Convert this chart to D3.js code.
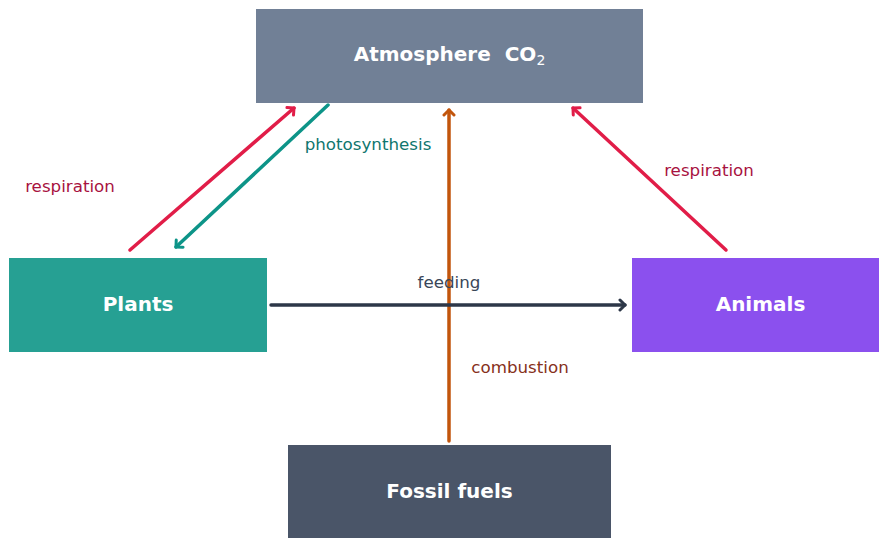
<!DOCTYPE html>
<html>
<head>
<meta charset="utf-8">
<script src="https://cdn.jsdelivr.net/npm/d3@7"></script>
<style>
  html, body { margin: 0; padding: 0; background: #fff; }
  text { font-family: "DejaVu Sans", sans-serif; }
</style>
</head>
<body>
<div id="chart"></div>
<script>
// nodes and flows of the carbon cycle
var nodes = ["Atmosphere", "Plants", "Animals", "Fossil fuels"];
var flowFrom = ["Plants", "Atmosphere", "Animals", "Fossil fuels", "Plants"];
var flowTo = ["Atmosphere", "Plants", "Atmosphere", "Atmosphere", "Animals"];
var flowLabels = ["respiration", "photosynthesis", "respiration", "combustion", "feeding"];

var width = 879, height = 538;

// layout (pixels)
var box = {
  "Atmosphere":   {x: 256, y: 9,   w: 387, h: 94,  fill: "#718096", dy: 5},
  "Plants":       {x: 9,   y: 258, w: 258, h: 94,  fill: "#26a093", dy: 6},
  "Animals":      {x: 632, y: 258, w: 257, h: 94,  fill: "#8b50ee", dy: 6},
  "Fossil fuels": {x: 288, y: 445, w: 323, h: 93,  fill: "#4a5568", dy: 6}
};
// arrow end points [x1,y1,x2,y2], label position and colours per flow
var arrowPos = [
  [130, 250, 294, 108],
  [328, 105, 176, 247],
  [726, 250, 573, 108],
  [449, 441, 449, 110],
  [271, 305, 625, 305]
];
var labelPos = [[70, 186], [368, 144], [709, 170], [520, 367], [449, 282]];
var lineColor = ["#e11d48", "#0d9488", "#e11d48", "#c2550c", "#2d3748"];
var textColor = ["#a8123f", "#0f766e", "#a8123f", "#86301a", "#3a4658"];

var svg = d3.select("#chart").append("svg")
  .attr("width", width).attr("height", height);

var defs = svg.append("defs");
lineColor.forEach(function (c, i) {
  defs.append("marker")
    .attr("id", "arr" + i)
    .attr("viewBox", "-7 -7 14 14")
    .attr("refX", 0).attr("refY", 0)
    .attr("markerWidth", 14).attr("markerHeight", 14)
    .attr("markerUnits", "userSpaceOnUse")
    .attr("orient", "auto")
    .append("path")
    .attr("d", "M-5,-5 L0,0 L-5,5")
    .attr("fill", "none")
    .attr("stroke", c)
    .attr("stroke-width", 3)
    .attr("stroke-linecap", "round")
    .attr("stroke-linejoin", "round");
});

// boxes
var g = svg.selectAll("g.node")
  .data(nodes)
  .enter().append("g")
  .attr("class", "node");

g.append("rect")
  .attr("x", function (d) { return box[d].x; })
  .attr("y", function (d) { return box[d].y; })
  .attr("width", function (d) { return box[d].w; })
  .attr("height", function (d) { return box[d].h; })
  .attr("fill", function (d) { return box[d].fill; });

var labels = g.append("text")
  .attr("x", function (d) { return box[d].x + box[d].w / 2; })
  .attr("y", function (d) { return box[d].y + box[d].h / 2 + box[d].dy; })
  .attr("text-anchor", "middle")
  .attr("fill", "#fff")
  .attr("font-size", 20)
  .attr("font-weight", "bold");

labels.each(function (d) {
  var t = d3.select(this);
  if (d === "Atmosphere") {
    t.append("tspan").text("Atmosphere\u00a0\u00a0CO");
    t.append("tspan").attr("dy", 4).attr("font-size", 14).attr("font-weight", "normal").text("2");
  } else {
    t.text(d);
  }
});

// flows
var flows = flowLabels.map(function (l, i) {
  return {from: flowFrom[i], to: flowTo[i], label: l, i: i};
});

svg.selectAll("line.flow")
  .data(flows)
  .enter().append("line")
  .attr("class", "flow")
  .attr("x1", function (d) { return arrowPos[d.i][0]; })
  .attr("y1", function (d) { return arrowPos[d.i][1]; })
  .attr("x2", function (d) { return arrowPos[d.i][2]; })
  .attr("y2", function (d) { return arrowPos[d.i][3]; })
  .attr("stroke", function (d) { return lineColor[d.i]; })
  .attr("stroke-width", 3.5)
  .attr("stroke-linecap", "round")
  .attr("marker-end", function (d) { return "url(#arr" + d.i + ")"; });

svg.selectAll("text.flow")
  .data(flows)
  .enter().append("text")
  .attr("class", "flow")
  .attr("x", function (d) { return labelPos[d.i][0]; })
  .attr("y", function (d) { return labelPos[d.i][1] + 6; })
  .attr("text-anchor", "middle")
  .attr("font-size", 16.7)
  .attr("fill", function (d) { return textColor[d.i]; })
  .text(function (d) { return d.label; });
</script>
</body>
</html>
